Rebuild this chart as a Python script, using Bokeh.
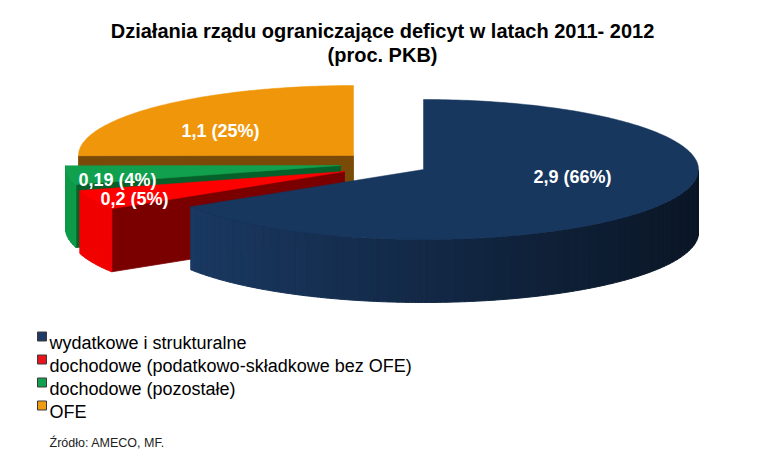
import math
from bokeh.plotting import figure
from bokeh.models import Range1d
from bokeh.embed import file_html
from bokeh.resources import INLINE
from bokeh.core.properties import value

# ---------------- data ----------------
TITLE_LINES = ["Działania rządu ograniczające deficyt w latach 2011- 2012", "(proc. PKB)"]
CATEGORIES = ["wydatkowe i strukturalne",
              "dochodowe (podatkowo-składkowe bez OFE)",
              "dochodowe (pozostałe)",
              "OFE"]
VALUES = [2.9, 0.2, 0.19, 1.1]
PERCENTS = [66, 5, 4, 25]
SOURCE = "Źródło: AMECO, MF."

# ---------------- styles / layout ----------------
FONT = value("Liberation Sans")
TOP = ["#17375e", "#ff0000", "#10a04e", "#f0960a"]
SIDE_L = ["#1b3b66", "#f20000", "#0c9a48", "#c07608"]
SIDE_R = ["#0a1626", "#d80000", "#0a8a40", "#a06006"]
FACE = ["#0e2340", "#7a0000", "#06602a", "#7a4a08"]
LEGEND_COL = ["#1f3a64", "#e8141c", "#12a04e", "#f09c12"]

CX, CY = 375.0, 170.0          # base centre of the pie (page px)
RX, RY, DEPTH = 275.0, 70.0, 63.0
EXPLODE = [(56, 7), (-23, 9), (-27, 3), (-14, -7)]       # per slice shift
LABEL_OFF = [(149, 1), (-210, 21), (-223, 8), (-133, -31)]  # label cap-middle offset from slice centre
DRAW_ORDER = [3, 2, 1, 0]

W, H = 760, 453
p = figure(width=W, height=H, x_range=Range1d(8, 8 + W), y_range=Range1d(8 + H, 8),
           output_backend="svg", toolbar_location=None, min_border=0)
p.axis.visible = False
p.grid.visible = False
p.outline_line_color = None
p.background_fill_color = "white"
p.border_fill_color = "white"


def pt(cx, cy, t, dz=0.0):
    return cx + RX * math.cos(t), cy - RY * math.sin(t) + dz


def lerp_col(c1, c2, u):
    a = [int(c1[i:i + 2], 16) for i in (1, 3, 5)]
    b = [int(c2[i:i + 2], 16) for i in (1, 3, 5)]
    return "#%02x%02x%02x" % tuple(int(round(a[k] + (b[k] - a[k]) * u)) for k in range(3))


total = sum(VALUES)
angles = []
start = math.pi / 2
for v in VALUES:
    hi = start
    lo = start - v / total * 2 * math.pi
    angles.append((lo, hi))
    start = lo

for i in DRAW_ORDER:
    lo, hi = angles[i]
    cx, cy = CX + EXPLODE[i][0], CY + EXPLODE[i][1]
    # radius faces
    faces_x, faces_y = [], []
    for t, need_neg in ((hi, True), (lo, False)):
        c = math.cos(t)
        if (need_neg and c < -1e-6) or ((not need_neg) and c > 1e-6):
            ex, ey = pt(cx, cy, t)
            faces_x.append([cx, ex, ex, cx])
            faces_y.append([cy, ey, ey + DEPTH, cy + DEPTH])
    if faces_x:
        p.patches(faces_x, faces_y, fill_color=FACE[i], line_color=FACE[i], line_width=0.8)
    # outer arc side (front half only), split into strips for shading
    n = max(2, int((hi - lo) / math.radians(2)))
    sx, sy, sc = [], [], []
    for k in range(n):
        t0 = lo + (hi - lo) * k / n
        t1 = lo + (hi - lo) * (k + 1) / n
        tm = 0.5 * (t0 + t1)
        if math.sin(tm) >= 0:
            continue
        ts = [t0 + (t1 - t0) * j / 3 for j in range(4)]
        top_pts = [pt(cx, cy, t) for t in ts]
        bot_pts = [pt(cx, cy, t, DEPTH) for t in reversed(ts)]
        sx.append([q[0] for q in top_pts + bot_pts])
        sy.append([q[1] for q in top_pts + bot_pts])
        u = (math.cos(tm) + 1) / 2
        sc.append(lerp_col(SIDE_L[i], SIDE_R[i], u))
    if sx:
        p.patches(sx, sy, fill_color=sc, line_color=sc, line_width=1)
    # top face
    m = max(8, int((hi - lo) / math.radians(1)))
    xs, ys = [cx], [cy]
    for k in range(m + 1):
        t = hi - (hi - lo) * k / m
        x, y = pt(cx, cy, t)
        xs.append(x)
        ys.append(y)
    p.patch(xs, ys, fill_color=TOP[i], line_color=TOP[i], line_width=0.5)

# slice labels
lab_x, lab_y, lab_t = [], [], []
for i in range(len(VALUES)):
    cx, cy = CX + EXPLODE[i][0], CY + EXPLODE[i][1]
    lab_x.append(cx + LABEL_OFF[i][0])
    lab_y.append(cy + LABEL_OFF[i][1] + 6.4)
    lab_t.append(("%g" % VALUES[i]).replace(".", ",") + " (%d%%)" % PERCENTS[i])
p.text(lab_x, lab_y, text=lab_t, text_font=FONT, text_font_size="18px", text_font_style="bold",
       text_color="white", text_align="center", text_baseline="alphabetic")

# title
p.text([390, 390], [38, 62], text=TITLE_LINES, text_font=FONT, text_font_size="20px",
       text_font_style="bold", text_color="black", text_align="center", text_baseline="alphabetic")

# legend
leg_y = [344 + 23 * k for k in range(len(CATEGORIES))]
p.scatter([49.5] * len(CATEGORIES), leg_y, marker="square", size=9, fill_color=LEGEND_COL,
          line_color="#3a3a3a", line_width=1)
p.text([57] * len(CATEGORIES), [y + 6.4 for y in leg_y], text=CATEGORIES, text_font=FONT,
       text_font_size="18px", text_color="black", text_align="left", text_baseline="alphabetic")

# source
p.text([57], [450.5], text=[SOURCE], text_font=FONT, text_font_size="12.5px", text_color="#222222",
       text_align="left", text_baseline="alphabetic")

open("out.html", "w").write(file_html(p, INLINE))
